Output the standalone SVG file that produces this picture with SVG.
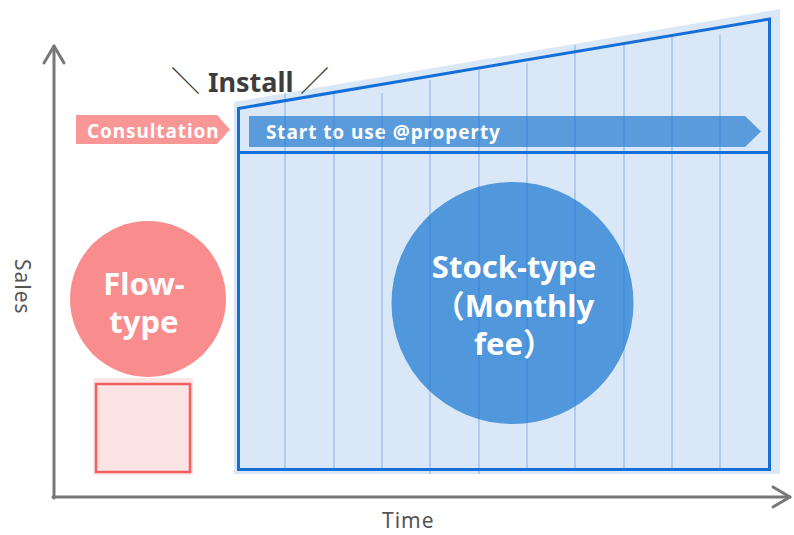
<svg xmlns="http://www.w3.org/2000/svg" width="794" height="535" viewBox="0 0 794 535">
<style>
.lbl{font-family:"Noto Sans","Noto Sans CJK JP",sans-serif;font-weight:700;fill:#fff}
.tag{font-size:19px;letter-spacing:0.9px}
.ax{font-family:"Noto Sans","Noto Sans CJK JP",sans-serif;font-size:21px;letter-spacing:1px;fill:#555}
.axis{stroke:#777;stroke-width:3;fill:none;stroke-linecap:round;stroke-linejoin:round}
.grid line{stroke:#1a6fd0;stroke-opacity:0.3;stroke-width:1.5}
.outline{stroke:#1470d8;stroke-width:3;fill:none}
</style>
<rect width="794" height="535" fill="#fff"/>
<g id="axes">
  <polyline class="axis" points="54,498 54,46"/>
  <polyline class="axis" points="44,63 54,46 64,63"/>
  <polyline class="axis" points="53,497 790,497"/>
  <polyline class="axis" points="773,487 790,497 773,507"/>
  <text class="ax" transform="translate(15,259) rotate(90)">Sales</text>
  <text class="ax" x="382" y="528">Time</text>
</g>
<g id="stock-area">
  <polygon points="234,102 780,9 780,474 234,474" fill="#d9e7f7"/>
</g>
<g id="start-arrow">
  <polygon points="249,116 745,116 761,131.5 745,147 249,147" fill="#5a9bdc"/>
  <text class="lbl tag" x="266" y="139">Start to use @property</text>
</g>
<g id="stock-circle">
  <circle cx="512.5" cy="303" r="121" fill="#5097dc"/>
</g>
<g class="grid" id="grid">
  <line x1="285" y1="93" x2="285" y2="470"/>
  <line x1="334" y1="93" x2="334" y2="470"/>
  <line x1="382" y1="93" x2="382" y2="470"/>
  <line x1="430" y1="80" x2="430" y2="474"/>
  <line x1="479" y1="70" x2="479" y2="474"/>
  <line x1="527" y1="63" x2="527" y2="470"/>
  <line x1="575" y1="45" x2="575" y2="470"/>
  <line x1="624" y1="45" x2="624" y2="470"/>
  <line x1="672" y1="37" x2="672" y2="470"/>
  <line x1="720" y1="35" x2="720" y2="470"/>
</g>
<g id="stock-outline">
  <polygon class="outline" points="238.5,108.5 769.5,19 769.5,469.5 238.5,469.5"/>
  <line class="outline" x1="238.5" y1="152.5" x2="769.5" y2="152.5"/>
</g>
<g id="stock-label">
  <text class="lbl" font-size="31" text-anchor="middle"><tspan x="514" y="278">Stock-type</tspan><tspan x="514" y="317">（Monthly</tspan><tspan x="514" y="355">fee）</tspan></text>
</g>
<g id="consultation">
  <polygon points="76,115 217,115 230,129.5 217,144 76,144" fill="#f99696"/>
  <text class="lbl tag" x="87" y="138">Consultation</text>
</g>
<g id="install">
  <text font-family="'Noto Sans','Noto Sans CJK JP',sans-serif" font-size="27" fill="#3d3d3d" y="92"><tspan x="171" font-size="29">＼</tspan><tspan x="208" font-weight="700">Install</tspan><tspan x="300" font-size="29">／</tspan></text>
</g>
<g id="flow-circle">
  <circle cx="148" cy="299" r="78" fill="#f98c8c"/>
  <text class="lbl" font-size="31" text-anchor="middle"><tspan x="144" y="295">Flow-</tspan><tspan x="144" y="333">type</tspan></text>
</g>
<g id="flow-box">
  <rect x="93" y="378" width="100" height="97" fill="#fde6e6"/>
  <rect x="96" y="384" width="94" height="88" fill="#fde4e4" stroke="#f45f5f" stroke-width="2.5"/>
</g>
</svg>
